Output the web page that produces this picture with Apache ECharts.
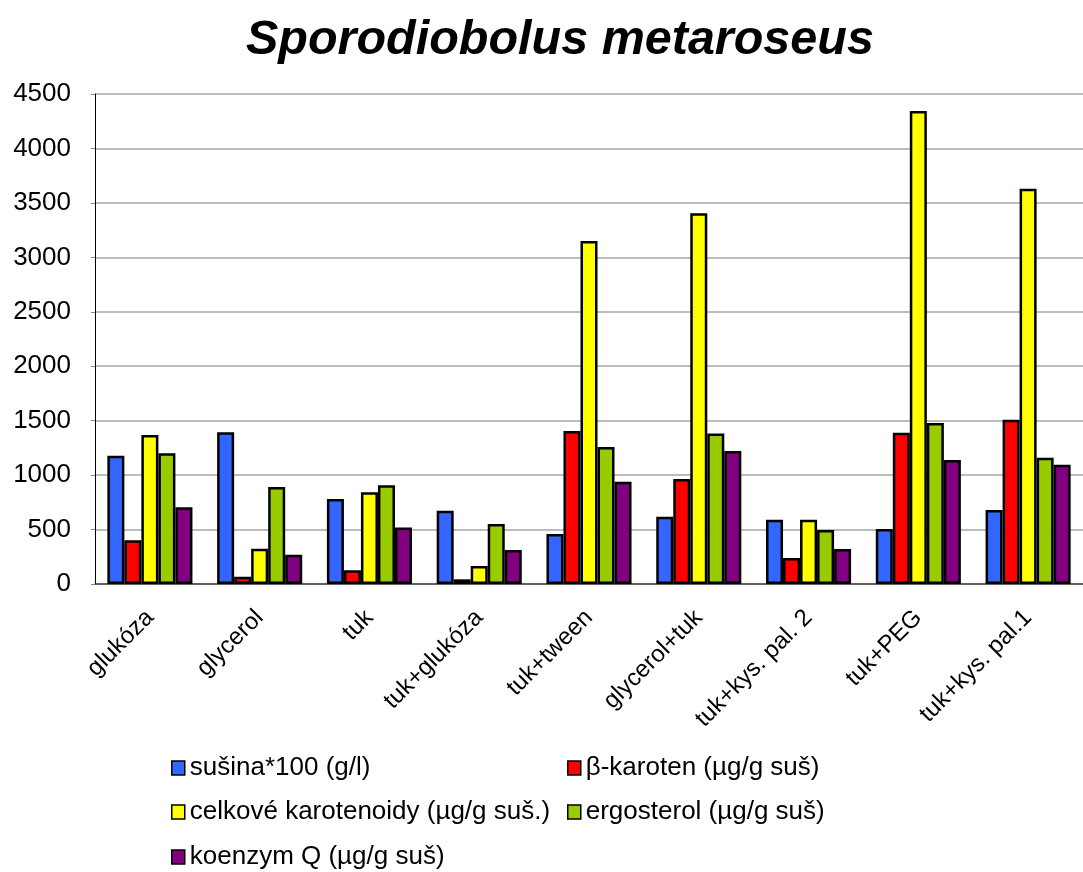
<!DOCTYPE html>
<html>
<head>
<meta charset="utf-8">
<script src="https://cdn.jsdelivr.net/npm/echarts@6/dist/echarts.min.js"></script>
<style>
  html, body { margin: 0; padding: 0; background: #fff; }
  #chart { width: 1083px; height: 872px; }
</style>
</head>
<body>
<div id="chart"></div>
<script>
// kategorie (substráty)
const categories = ['glukóza', 'glycerol', 'tuk', 'tuk+glukóza', 'tuk+tween', 'glycerol+tuk', 'tuk+kys. pal. 2', 'tuk+PEG', 'tuk+kys. pal.1']
const yTicks = [0, 500, 1000, 1500, 2000, 2500, 3000, 3500, 4000, 4500]

// hodnoty
const susina = [1178, 1393, 781, 673, 459, 618, 591, 505, 680]
const betaKaroten = [401, 67, 126, 43, 1405, 964, 239, 1390, 1509]
const karotenoidy = [1368, 324, 842, 165, 3150, 3404, 591, 4344, 3630]
const ergosterol = [1200, 891, 906, 551, 1258, 1381, 496, 1479, 1160]
const koenzymQ = [704, 269, 520, 312, 940, 1221, 321, 1139, 1096]

const names = ['sušina*100 (g/l)', 'β-karoten (µg/g suš)', 'celkové karotenoidy (µg/g suš.)', 'ergosterol (µg/g suš)', 'koenzym Q (µg/g suš)']
const colors = ['#3366FF', '#FF0000', '#FFFF00', '#99CC00', '#800080']
const values = [susina, betaKaroten, karotenoidy, ergosterol, koenzymQ]

const font = '"Liberation Sans", Arial, sans-serif'

let chart = echarts.init(document.getElementById('chart'))

// legenda po jednotlivých položkách (2 sloupce, 3 řádky)
const legendPos = [[171, 755], [567, 755], [171, 799], [567, 799], [171, 844]]
const legends = names.map((n, i) => ({
  data: [n],
  left: legendPos[i][0],
  top: legendPos[i][1],
  padding: 0,
  itemWidth: 13,
  itemHeight: 14,
  itemGap: 4,
  icon: 'rect',
  itemStyle: { borderColor: '#000', borderWidth: 1.5 },
  textStyle: { fontFamily: font, fontSize: 26, color: '#000' },
  selectedMode: false
}))

let option = {
  animation: false,
  backgroundColor: '#fff',
  title: {
    text: 'Sporodiobolus metaroseus',
    left: 246,
    top: 17,
    padding: 0,
    textStyle: { fontFamily: font, fontSize: 48.5, fontWeight: 'bold', fontStyle: 'italic', color: '#000' }
  },
  legend: legends,
  grid: { left: 95, right: -11, top: 94, bottom: 288, containLabel: false },
  xAxis: {
    type: 'category',
    data: categories,
    axisLine: { show: true, lineStyle: { color: '#444', width: 1.5 } },
    axisTick: { show: false },
    axisLabel: {
      interval: 0,
      rotate: 45,
      margin: 30,
      fontFamily: font,
      fontSize: 24,
      color: '#000'
    }
  },
  yAxis: {
    type: 'value',
    min: yTicks[0],
    max: yTicks[yTicks.length - 1],
    interval: yTicks[1] - yTicks[0],
    axisLine: { show: true, lineStyle: { color: '#000', width: 1 } },
    axisTick: { show: true, length: 4, lineStyle: { color: '#888' } },
    splitLine: { show: true, lineStyle: { color: '#A6A6A6', width: 1.5 } },
    axisLabel: {
      fontFamily: font,
      fontSize: 26,
      color: '#000',
      margin: 24,
      formatter: v => String(v)
    }
  },
  series: values.map((d, i) => ({
    name: names[i],
    type: 'bar',
    data: d,
    barGap: '0%',
    barCategoryGap: '22.5%',
    itemStyle: { color: colors[i], borderColor: '#000', borderWidth: 2.5 }
  }))
}
chart.setOption(option)
</script>
</body>
</html>
